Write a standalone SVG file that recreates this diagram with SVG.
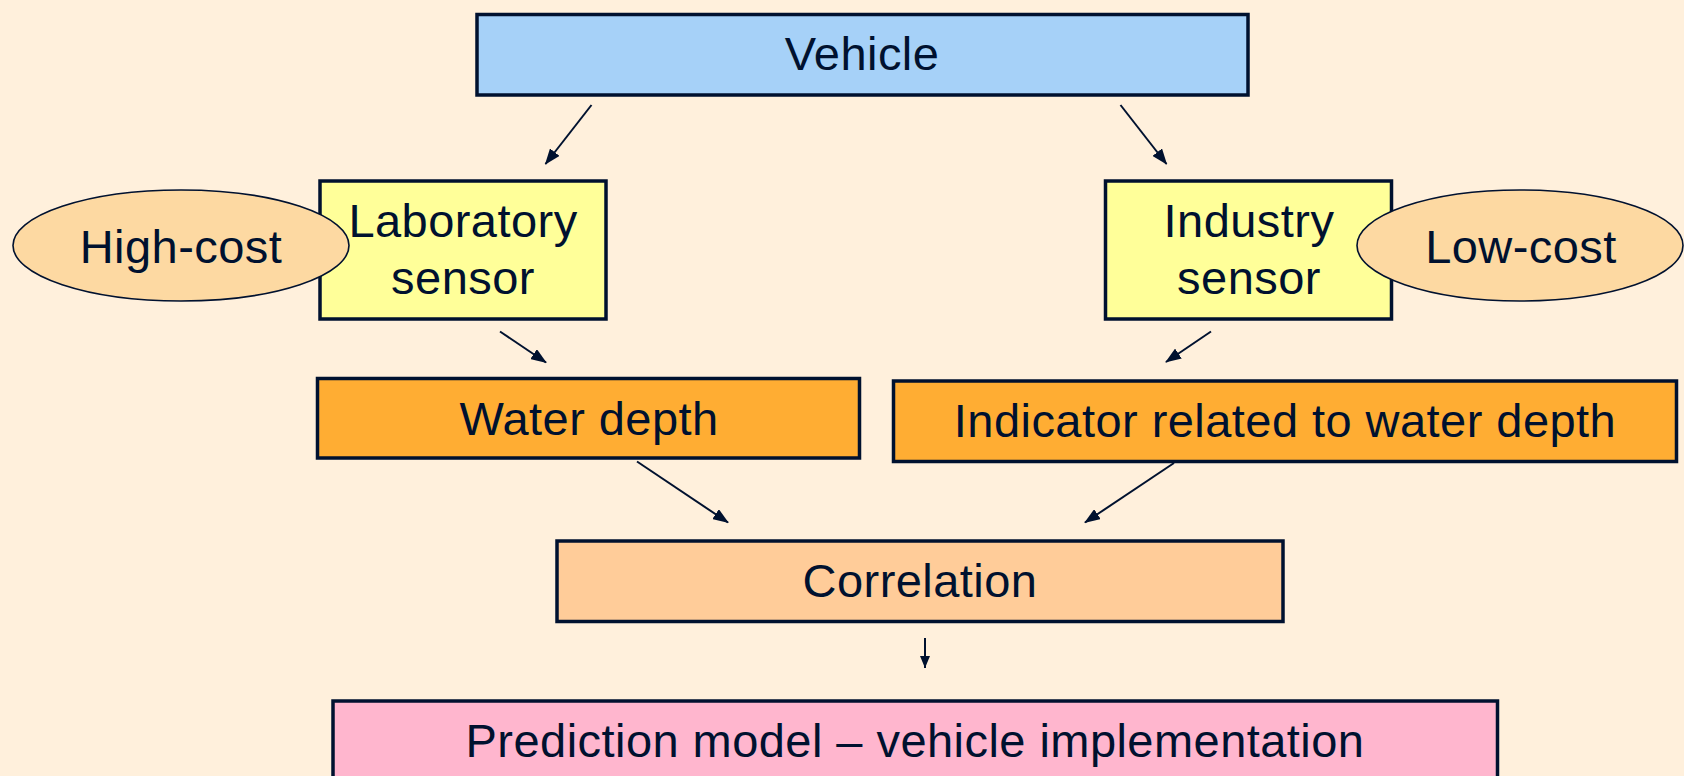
<svg xmlns="http://www.w3.org/2000/svg" width="1684" height="776" viewBox="0 0 1684 776">
<style>
.box{stroke:#00112F;stroke-width:3.5}
.ell{stroke:#00112F;stroke-width:1.6;fill:#FDD9A2}
.t{font-family:"Liberation Sans",Arial,sans-serif;font-size:47px;letter-spacing:0.45px;fill:#00112F;text-anchor:middle}
.c{stroke:#00112F;stroke-width:2;fill:none;marker-end:url(#ahb)}
</style>
<defs>
<marker id="ah" markerWidth="12" markerHeight="10" refX="12" refY="5" orient="auto" markerUnits="userSpaceOnUse" viewBox="0 0 12 10">
<path d="M0,0 L12,5 L0,10 z" fill="#00112F"/>
</marker>
<marker id="ahb" markerWidth="16" markerHeight="12" refX="15" refY="6" orient="auto" markerUnits="userSpaceOnUse" viewBox="0 0 16 12">
<path d="M0,0 L16,6 L0,12 z" fill="#00112F"/>
</marker>
</defs>
<rect x="0" y="0" width="1684" height="776" fill="#FFF0DC"/>
<g id="vehicle">
<rect class="box" x="477" y="14.5" width="771" height="80.5" fill="#A6D1F8"/>
<text class="t" x="862" y="70">Vehicle</text>
</g>
<g id="lab-sensor">
<rect class="box" x="320" y="181" width="286" height="138" fill="#FFFF99"/>
<text class="t" x="463" y="237">Laboratory</text>
<text class="t" x="463" y="294">sensor</text>
</g>
<g id="high-cost">
<ellipse class="ell" cx="181" cy="245.5" rx="168" ry="55.5"/>
<text class="t" x="181" y="263">High-cost</text>
</g>
<g id="industry-sensor">
<rect class="box" x="1105.5" y="181" width="286" height="138" fill="#FFFF99"/>
<text class="t" x="1249" y="237">Industry</text>
<text class="t" x="1249" y="294">sensor</text>
</g>
<g id="low-cost">
<ellipse class="ell" cx="1520" cy="245.5" rx="163" ry="55.5"/>
<text class="t" x="1521" y="263">Low-cost</text>
</g>
<g id="water-depth">
<rect class="box" x="317.5" y="378.5" width="542" height="79.5" fill="#FFAD33"/>
<text class="t" x="589" y="435">Water depth</text>
</g>
<g id="indicator">
<rect class="box" x="893.5" y="381" width="783" height="80.5" fill="#FFAD33"/>
<text class="t" x="1285" y="437">Indicator related to water depth</text>
</g>
<g id="correlation">
<rect class="box" x="557" y="541" width="726" height="80.5" fill="#FFCC99"/>
<text class="t" x="920" y="597">Correlation</text>
</g>
<g id="prediction">
<rect class="box" x="333" y="701" width="1164.5" height="90" fill="#FFB6CE"/>
<text class="t" x="915" y="757">Prediction model – vehicle implementation</text>
</g>
<g id="connectors">
<path d="M591.5,105 L545.5,164" class="c"/>
<path d="M1120.5,105 L1166.5,164" class="c"/>
<path d="M500,331.5 L546,362.5" class="c"/>
<path d="M1211,331.5 L1166,362" class="c"/>
<path d="M637,461.5 L728,522.5" class="c"/>
<path d="M1174,463 L1085,522.5" class="c"/>
<path d="M925,638 L925,668" class="c" style="marker-end:url(#ah)"/>
</g>
</svg>
